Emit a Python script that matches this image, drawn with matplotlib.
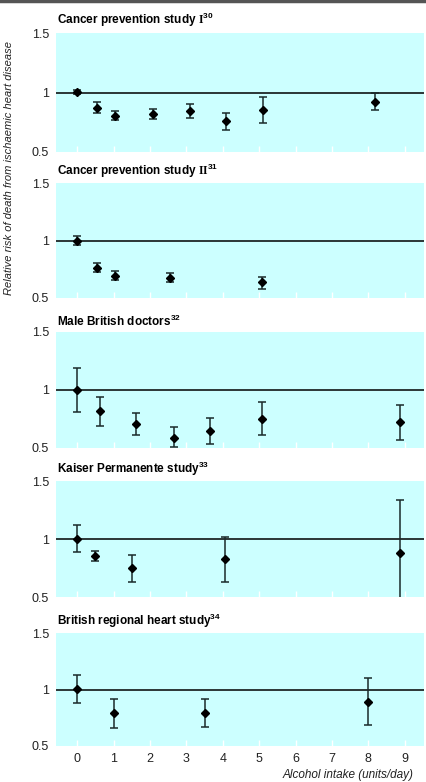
import matplotlib
matplotlib.use("Agg")
import matplotlib.pyplot as plt
from matplotlib.lines import Line2D

plt.rcParams['font.family'] = ['Liberation Sans', 'DejaVu Sans']
plt.rcParams['mathtext.fontset'] = 'custom'
plt.rcParams['mathtext.rm'] = 'Liberation Serif'
plt.rcParams['mathtext.bf'] = 'Liberation Serif:bold'
plt.rcParams['mathtext.sf'] = 'Liberation Sans:bold'

titles = [r'Cancer prevention study $\mathbf{I}^{\mathsf{30}}$',
          r'Cancer prevention study $\mathbf{II}^{\mathsf{31}}$',
          r'Male British doctors$^{\mathsf{32}}$',
          r'Kaiser Permanente study$^{\mathsf{33}}$',
          r'British regional heart study$^{\mathsf{34}}$']

# intake (units/day), relative risk, lower and upper limits
x1 = [0, 0.55, 1.05, 2.08, 3.1, 4.1, 5.12, 8.18]
rr1 = [1.005, 0.873, 0.806, 0.817, 0.842, 0.758, 0.856, 0.921]
lo1 = [0.985, 0.831, 0.769, 0.775, 0.783, 0.687, 0.746, 0.851]
hi1 = [1.025, 0.918, 0.845, 0.859, 0.901, 0.831, 0.963, 0.992]

x2 = [0, 0.55, 1.05, 2.55, 5.08]
rr2 = [1.0, 0.765, 0.694, 0.676, 0.635]
lo2 = [0.962, 0.726, 0.653, 0.635, 0.582]
hi2 = [1.041, 0.806, 0.735, 0.718, 0.682]

x3 = [0, 0.62, 1.62, 2.65, 3.64, 5.08, 8.87]
rr3 = [1.0, 0.817, 0.705, 0.588, 0.648, 0.754, 0.722]
lo3 = [0.814, 0.691, 0.611, 0.51, 0.536, 0.614, 0.57]
hi3 = [1.186, 0.94, 0.8, 0.679, 0.757, 0.894, 0.874]

x4 = [0, 0.48, 1.5, 4.05, 8.87]
rr4 = [1.0, 0.85, 0.746, 0.825, 0.879]
lo4 = [0.887, 0.808, 0.63, 0.633, 0.4]
hi4 = [1.119, 0.895, 0.859, 1.017, 1.339]

x5 = [0, 1.0, 3.52, 8.0]
rr5 = [1.003, 0.789, 0.789, 0.89]
lo5 = [0.879, 0.663, 0.669, 0.683]
hi5 = [1.132, 0.913, 0.913, 1.101]

xs = [x1, x2, x3, x4, x5]
rrs = [rr1, rr2, rr3, rr4, rr5]
los = [lo1, lo2, lo3, lo4, lo5]
his = [hi1, hi2, hi3, hi4, hi5]

xticks = [0, 1, 2, 3, 4, 5, 6, 7, 8, 9]
xticklabels = ['0', '1', '2', '3', '4', '5', '6', '7', '8', '9']
yticks = [0.5, 1, 1.5]
yticklabels = ['0.5', '1', '1.5']

W, H = 426, 782
fig = plt.figure(figsize=(W / 100, H / 100), dpi=100)

# panel tops / bottoms in pixels
tops = [33, 183, 332, 481, 633]
bots = [152, 298, 448, 597, 746]
left, right = 56, 424

for i in range(5):
    ax = fig.add_axes([left / W, 1 - bots[i] / H, (right - left) / W, (bots[i] - tops[i]) / H])
    ax.set_facecolor('#ccffff')
    for s in ax.spines.values():
        s.set_visible(False)
    ax.set_xlim(-0.58, 9.53)
    ax.set_ylim(0.5, 1.5)
    ax.axhline(1, color='black', lw=1.1, zorder=2)
    yerr = [[r - l for r, l in zip(rrs[i], los[i])], [h - r for r, h in zip(rrs[i], his[i])]]
    ax.errorbar(xs[i], rrs[i], yerr=yerr, fmt='D', color='black', ms=4.2,
                ecolor='#1a2a2a', elinewidth=1.1, capsize=3, capthick=1.1, zorder=3)
    ax.set_yticks(yticks)
    ax.set_yticklabels(yticklabels)
    ax.set_xticks(xticks)
    ax.tick_params(axis='y', length=0, labelsize=9, pad=5, labelcolor='#222222')
    ax.tick_params(axis='x', direction='in', length=4, width=1, color='white', labelbottom=False)
    if i == 4:
        # x labels drawn as plain text under the last panel
        tr = ax.get_xaxis_transform()
        for xv, lab in zip(xticks, xticklabels):
            ax.text(xv, -0.06, lab, transform=tr, ha='center', va='top', fontsize=9,
                    color='#222222', clip_on=False)
    ax.text(0.003, 1.03, titles[i], transform=ax.transAxes, fontsize=8.5, fontweight='bold',
            ha='left', va='bottom')

fig.text(9 / W, 1 - 168 / H, 'Relative risk of death from ischaemic heart disease',
         rotation=90, ha='center', va='center', fontsize=8, style='italic', color='#222222')
fig.text(413 / W, 1 - 775 / H, 'Alcohol intake (units/day)', ha='right', va='center',
         fontsize=8.5, style='italic', color='#222222')

# top rule
fig.add_artist(Line2D([0, 1], [1 - 1 / H, 1 - 1 / H], transform=fig.transFigure,
                      color='#555555', lw=2.5))

fig.savefig('out.png', dpi=100)
